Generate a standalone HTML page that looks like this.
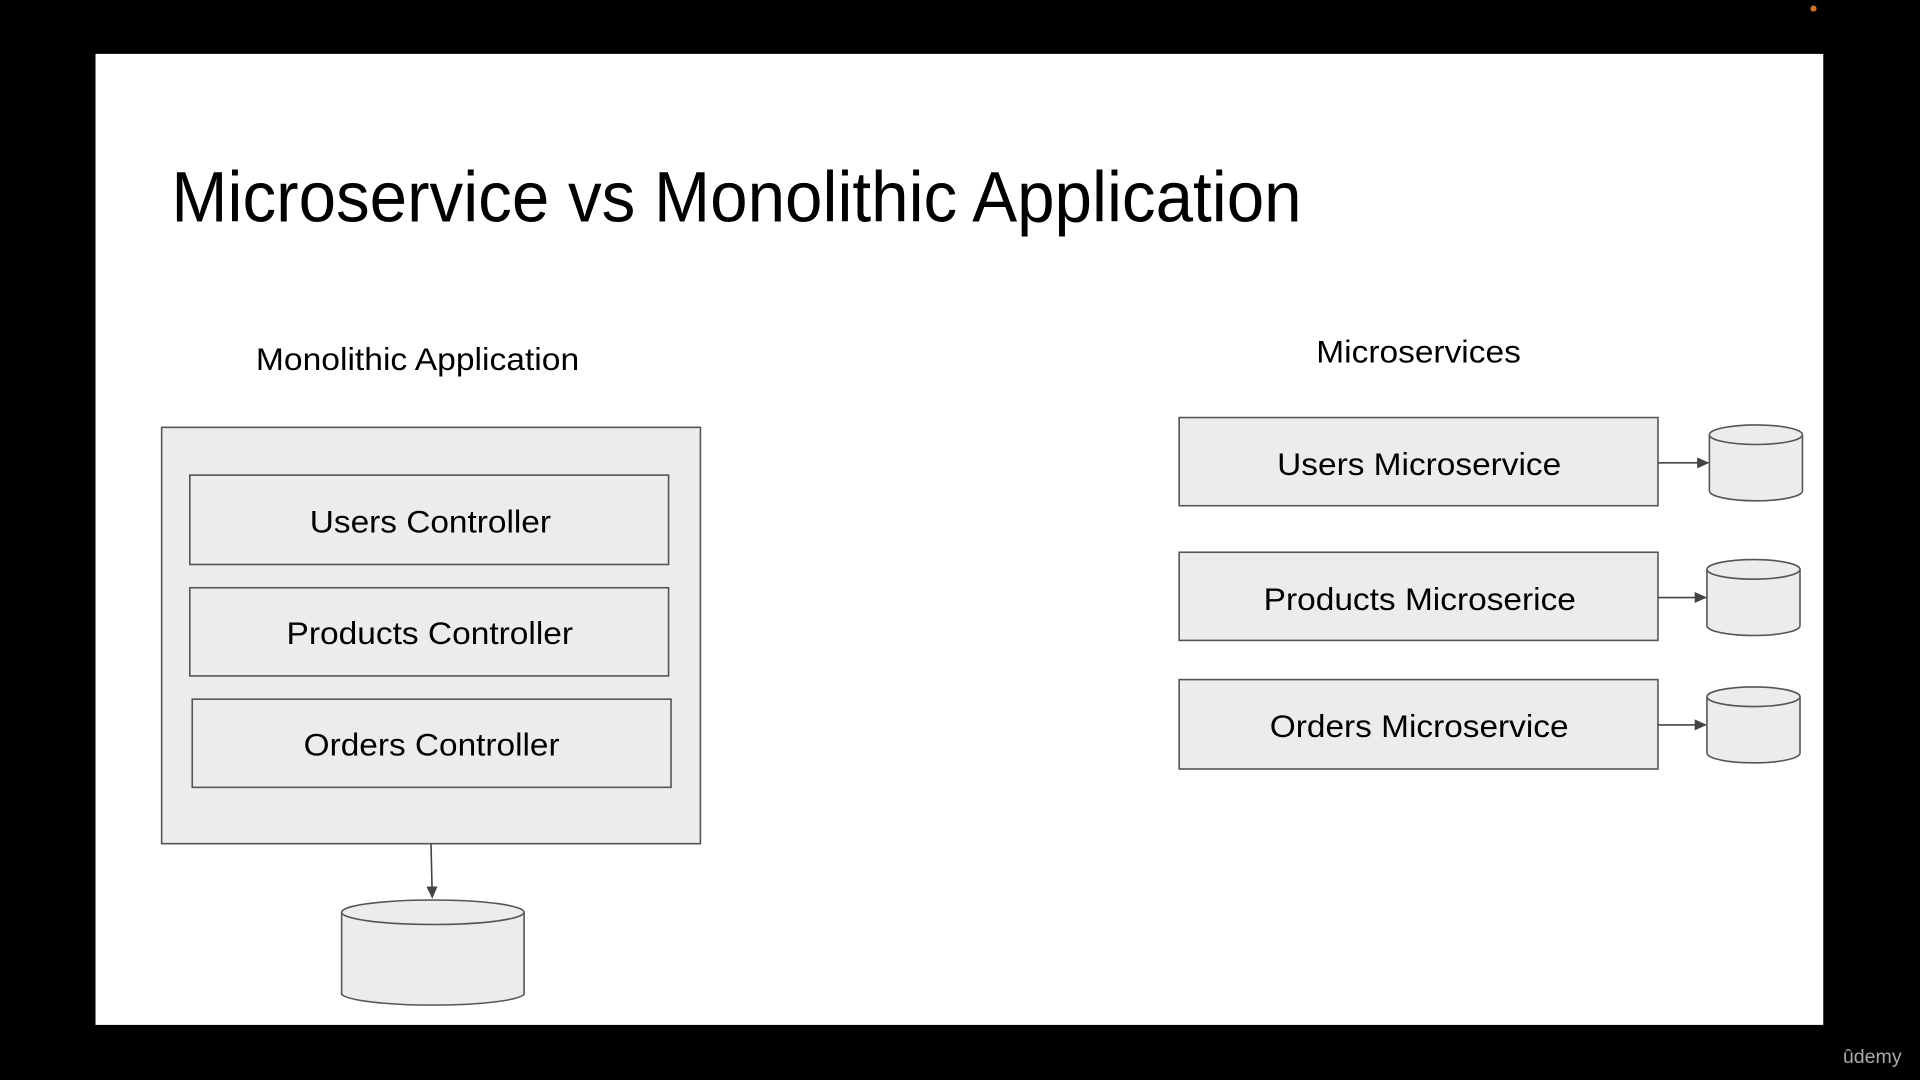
<!DOCTYPE html>
<html><head><meta charset="utf-8"><style>
html,body{margin:0;padding:0;background:#000;width:1920px;height:1080px;overflow:hidden}
svg{display:block}
text{font-family:"Liberation Sans",Arial,sans-serif;fill:#000}
</style></head><body>
<svg width="1920" height="1080" viewBox="0 0 1568 882" preserveAspectRatio="none" xmlns="http://www.w3.org/2000/svg">
<defs><marker id="a" markerWidth="10" markerHeight="10" refX="9" refY="5" orient="auto" markerUnits="userSpaceOnUse"><path d="M0,0.5 L10,5 L0,9.5 z" fill="#444"/></marker></defs>
<rect x="0" y="0" width="1568" height="882" fill="#000"/>
<circle cx="1481" cy="7" r="2.5" fill="#d8731f"/>
<rect x="78" y="44" width="1411" height="793" fill="#fff"/>
<text x="140" y="181" font-size="58" textLength="923" lengthAdjust="spacingAndGlyphs">Microservice vs Monolithic Application</text>
<text x="209" y="302" font-size="26" textLength="264" lengthAdjust="spacingAndGlyphs">Monolithic Application</text>
<text x="1075" y="296" font-size="26" textLength="167" lengthAdjust="spacingAndGlyphs">Microservices</text>
<g stroke="#555" stroke-width="1.3" fill="#ececee">
<rect x="132" y="349" width="440" height="340"/>
<rect x="155" y="388" width="391" height="73"/>
<rect x="155" y="480" width="391" height="72"/>
<rect x="157" y="571" width="391" height="72"/>
<rect x="963" y="341" width="391" height="72"/>
<rect x="963" y="451" width="391" height="72"/>
<rect x="963" y="555" width="391" height="73"/>
</g>
<g font-size="26">
<text x="253" y="435" textLength="197" lengthAdjust="spacingAndGlyphs">Users Controller</text>
<text x="234" y="526" textLength="234" lengthAdjust="spacingAndGlyphs">Products Controller</text>
<text x="248" y="617" textLength="209" lengthAdjust="spacingAndGlyphs">Orders Controller</text>
<text x="1043" y="388" textLength="232" lengthAdjust="spacingAndGlyphs">Users Microservice</text>
<text x="1032" y="498" textLength="255" lengthAdjust="spacingAndGlyphs">Products Microserice</text>
<text x="1037" y="602" textLength="244" lengthAdjust="spacingAndGlyphs">Orders Microservice</text>
</g>
<g stroke="#444" stroke-width="1.3" fill="none" marker-end="url(#a)">
<line x1="352" y1="689" x2="353" y2="733"/>
<line x1="1354" y1="378" x2="1395" y2="378"/>
<line x1="1354" y1="488" x2="1393" y2="488"/>
<line x1="1354" y1="592" x2="1393" y2="592"/>
</g>
<g stroke="#555" stroke-width="1.3" fill="#ececee">
<path d="M279,745 L279,812 A75,10 0 0 0 428,812 L428,745"/>
<ellipse cx="353.5" cy="745" rx="74.5" ry="10"/>
<path d="M1396,355 L1396,401 A38,8 0 0 0 1472,401 L1472,355"/>
<ellipse cx="1434" cy="355" rx="38" ry="8"/>
<path d="M1394,465 L1394,511 A38,8 0 0 0 1470,511 L1470,465"/>
<ellipse cx="1432" cy="465" rx="38" ry="8"/>
<path d="M1394,569 L1394,615 A38,8 0 0 0 1470,615 L1470,569"/>
<ellipse cx="1432" cy="569" rx="38" ry="8"/>
</g>
<text x="1505" y="868" font-size="16" style="fill:#aaa">ûdemy</text>
</svg>
</body></html>
